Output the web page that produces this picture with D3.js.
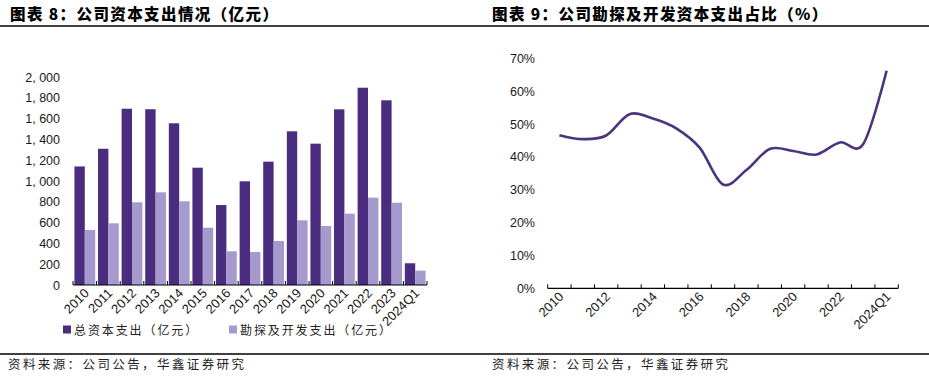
<!DOCTYPE html>
<html>
<head>
<meta charset="utf-8">
<script src="https://cdn.jsdelivr.net/npm/d3@7"></script>
<style>
  body { margin: 0; background: #fff; }
  svg { display: block; }
  .tick-label { font-family: "Liberation Sans", Arial, sans-serif; font-size: 12.5px; fill: #1a1a1a; }
  .title { font-family: "Noto Sans CJK SC", sans-serif; font-size: 15.5px; font-weight: 900; letter-spacing: 1.4px; fill: #000; }
  .note { font-family: "Noto Sans CJK SC", sans-serif; font-size: 12.5px; letter-spacing: 2.4px; fill: #222; }
</style>
</head>
<body>
<div id="chart"></div>
<script>
// categories and values
const years = ['2010','2011','2012','2013','2014','2015','2016','2017','2018','2019','2020','2021','2022','2023','2024Q1']
const totalCapex = [1140, 1310, 1695, 1690, 1555, 1128, 769, 997, 1186, 1478, 1359, 1689, 1897, 1776, 209]
const explCapex = [529, 593, 795, 891, 805, 551, 324, 317, 423, 622, 567, 686, 840, 791, 138]
const explShare = [46.6, 45.4, 46.5, 53.0, 51.7, 48.7, 42.8, 31.6, 36.0, 42.4, 41.8, 40.7, 44.4, 43.9, 66.2]
const leftTicks = [0, 200, 400, 600, 800, 1000, 1200, 1400, 1600, 1800, 2000]
const rightTicks = [0, 10, 20, 30, 40, 50, 60, 70]
const seriesNames = ['总资本支出（亿元）', '勘探及开发支出（亿元）']
const colors = ['#4b2d7f', '#a599cd']

const W = 929, H = 377
const svg = d3.select('#chart').append('svg')
    .attr('width', W).attr('height', H)

// titles and rules
svg.append('text').attr('class','title').attr('x', 10).attr('y', 20).text('图表 8：公司资本支出情况（亿元）')
svg.append('text').attr('class','title').attr('x', 492).attr('y', 20).text('图表 9：公司勘探及开发资本支出占比（%）')
svg.append('line').attr('x1', 0).attr('x2', W).attr('y1', 26).attr('y2', 26).attr('stroke', '#000').attr('stroke-width', 1.5)
svg.append('line').attr('x1', 0).attr('x2', W).attr('y1', 354).attr('y2', 354).attr('stroke', '#000').attr('stroke-width', 1.5)
svg.append('text').attr('class','note').attr('x', 8).attr('y', 369).text('资料来源：公司公告，华鑫证券研究')
svg.append('text').attr('class','note').attr('x', 492).attr('y', 369).text('资料来源：公司公告，华鑫证券研究')

// ---------- left: grouped bars ----------
const L = {x0: 73, x1: 427, y0: 285, y1: 77}
const xL = d3.scaleBand().domain(years).range([L.x0, L.x1]).paddingInner(0.12).paddingOuter(0.06)
const xSub = d3.scaleBand().domain([0, 1]).range([0, xL.bandwidth()])
const yL = d3.scaleLinear().domain([0, 2000]).range([L.y0, L.y1])
const edgeL = d3.scaleLinear().domain([0, years.length]).range([L.x0, L.x1])

const left = svg.append('g')
const groups = left.selectAll('g.grp')
    .data(years.map((y, i) => ({year: y, vals: [totalCapex[i], explCapex[i]]})))
    .join('g')
        .attr('class', 'grp')
        .attr('transform', d => `translate(${xL(d.year)},0)`)
groups.selectAll('rect')
    .data(d => d.vals)
    .join('rect')
        .attr('x', (d, i) => xSub(i))
        .attr('width', xSub.bandwidth())
        .attr('y', d => yL(d))
        .attr('height', d => yL(0) - yL(d))
        .attr('fill', (d, i) => colors[i])

left.selectAll('text.ylab')
    .data(leftTicks)
    .join('text')
        .attr('class', 'tick-label')
        .attr('x', 60).attr('y', d => yL(d) + 4.5)
        .attr('text-anchor', 'end')
        .text(d => d3.format(',')(d).replace(',', ', '))

left.append('line').attr('x1', L.x0).attr('x2', L.x1).attr('y1', L.y0).attr('y2', L.y0).attr('stroke', '#000').attr('stroke-width', 1.2)
left.selectAll('line.tk')
    .data(d3.range(years.length + 1))
    .join('line')
        .attr('x1', d => edgeL(d)).attr('x2', d => edgeL(d))
        .attr('y1', L.y0).attr('y2', L.y0 - 4)
        .attr('stroke', '#000')

left.selectAll('text.xlab')
    .data(years)
    .join('text')
        .attr('class', 'tick-label')
        .style('font-size', '13px')
        .attr('text-anchor', 'end')
        .attr('transform', d => `translate(${xL(d) + xL.bandwidth() / 2 + 5},${L.y0 + 9}) rotate(-45)`)
        .text(d => d)

// legend
const legX = [63, 229]
const leg = left.selectAll('g.leg')
    .data(seriesNames)
    .join('g')
        .attr('transform', (d, i) => `translate(${legX[i]},330)`)
leg.append('rect').attr('x', 0).attr('y', -4.5).attr('width', 8).attr('height', 8).attr('fill', (d, i) => colors[i])
leg.append('text').attr('class', 'note').attr('x', 11).attr('y', 4.5).style('font-size', '12px').style('letter-spacing', '1.9px').text(d => d)

// ---------- right: smoothed share line ----------
const R = {x0: 547.7, x1: 898.3, y0: 288.3, y1: 58.3}
const xR = d3.scaleBand().domain(years).range([R.x0, R.x1])
const yR = d3.scaleLinear().domain([0, 70]).range([R.y0, R.y1])
const edgeR = d3.scaleLinear().domain([0, years.length]).range([R.x0, R.x1])

const right = svg.append('g')
right.selectAll('text.ylab')
    .data(rightTicks)
    .join('text')
        .attr('class', 'tick-label')
        .attr('x', 535).attr('y', d => yR(d) + 4.5)
        .attr('text-anchor', 'end')
        .text(d => d + '%')

right.append('line').attr('x1', R.x0).attr('x2', R.x1).attr('y1', R.y0).attr('y2', R.y0).attr('stroke', '#000').attr('stroke-width', 1.2)
right.selectAll('line.tk')
    .data(d3.range(years.length + 1))
    .join('line')
        .attr('x1', d => edgeR(d)).attr('x2', d => edgeR(d))
        .attr('y1', R.y0).attr('y2', R.y0 - 4)
        .attr('stroke', '#000')

right.selectAll('text.xlab')
    .data(years.filter((d, i) => i % 2 === 0))
    .join('text')
        .attr('class', 'tick-label')
        .style('font-size', '13px')
        .attr('text-anchor', 'end')
        .attr('transform', d => `translate(${xR(d) + xR.bandwidth() / 2 + 5},${R.y0 + 9}) rotate(-45)`)
        .text(d => d)

const line = d3.line()
    .x((d, i) => xR(years[i]) + xR.bandwidth() / 2)
    .y(d => yR(d))
    .curve(d3.curveCatmullRom.alpha(0))
right.append('path')
    .datum(explShare)
    .attr('d', line)
    .attr('fill', 'none')
    .attr('stroke', '#4b3380')
    .attr('stroke-width', 2.6)
</script>
</body>
</html>
